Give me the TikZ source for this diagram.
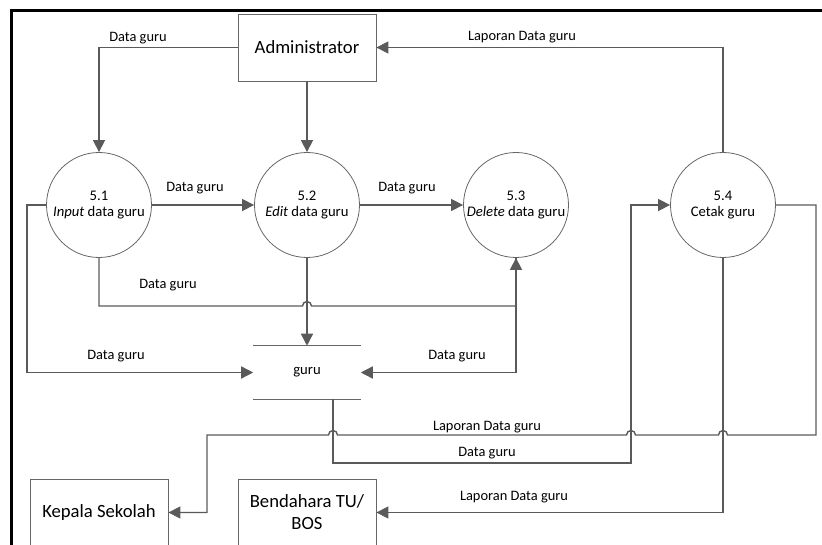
\documentclass[tikz,border=0pt]{standalone}
\usepackage{fontspec}
\setmainfont{Carlito}
\usetikzlibrary{arrows.meta}
\definecolor{linegray}{HTML}{5A5A5A}
\definecolor{edgegray}{HTML}{666666}
\tikzset{
  flow/.style={draw=linegray, line width=1.05pt, -{Triangle[length=9pt,width=9pt]}},
  process/.style={circle, draw=edgegray, line width=0.6pt, minimum size=78.75pt,
    inner sep=0pt, align=center, font=\fontsize{11}{11.5}\selectfont},
  entity/.style={rectangle, draw=edgegray, line width=0.6pt, minimum width=103.5pt,
    minimum height=50.25pt, align=center, font=\fontsize{14}{16.5}\selectfont},
  lbl/.style={font=\fontsize{10.8}{12}\selectfont, inner sep=0pt}
}
\begin{document}
\begin{tikzpicture}[x=0.75pt, y=-0.75pt]
\useasboundingbox (0,0) rectangle (822,545);
\clip (0,0) rectangle (822,545);

% frame
\draw[line width=2.25pt] (11,546) -- (11,11) -- (823,11);

% external entities
\node[entity] (adm) at (307,47.5) {Administrator};
\node[entity] (kep) at (99,512.5) {Kepala Sekolah};
\node[entity] (ben) at (307,512.5) {Bendahara TU/\\BOS};

% processes
\node[process] (c51) at (99,205) {5.1\\\textit{Input} data guru};
\node[process] (c52) at (307,205) {5.2\\\textit{Edit} data guru};
\node[process] (c53) at (516,205) {5.3\\\textit{Delete} data guru};
\node[process] (c54) at (723,205) {5.4\\Cetak guru};

% data store
\node[minimum width=80.25pt, minimum height=39.75pt, inner sep=0pt,
  font=\fontsize{11}{12}\selectfont] (store) at (307,372.5) {guru};
\draw[edgegray, line width=0.6pt] (store.north west) -- (store.north east);
\draw[edgegray, line width=0.6pt] (store.south west) -- (store.south east);
\coordinate (sb) at (333,399);

% connectors
\draw[flow] (adm.west) -| (c51.north);
\draw[flow] (adm.south) -- (c52.north);
\draw[flow] (c54.north) |- (adm.east);
\draw[flow] (c51.east) -- (c52.west);
\draw[flow] (c52.east) -- (c53.west);
\draw[flow] (c51.west) -- (27,205) |- (store.west);
\draw[flow] (c51.south) |- (302.5,306) arc[start angle=180, end angle=0, radius=3.375pt] -| (c53.south);
\draw[flow] (c52.south) -- (store.north);
\draw[flow] (c53.south) |- (store.east);
\draw[flow] (sb) |- (631,463) |- (c54.west);
\draw[flow] (c54.east) -| (816,435) -- (727.5,435)
  arc[start angle=0, end angle=180, radius=3.375pt] -- (635.5,435)
  arc[start angle=0, end angle=180, radius=3.375pt] -- (337.5,435)
  arc[start angle=0, end angle=180, radius=3.375pt] -- (207,435) |- (kep.east);
\draw[flow] (c54.south) |- (ben.east);

% flow labels
\node[lbl] (l1) at (138,38) {Data guru};
\node[lbl] (l2) at (522,37) {Laporan Data guru};
\node[lbl] (l3) at (195,188) {Data guru};
\node[lbl] (l4) at (407,188) {Data guru};
\node[lbl] (l5) at (168,285) {Data guru};
\node[lbl] (l6) at (116,356) {Data guru};
\node[lbl] (l7) at (457,356) {Data guru};
\node[lbl] (l8) at (487,427) {Laporan Data guru};
\node[lbl] (l9) at (487,453) {Data guru};
\node[lbl] (l10) at (514,497) {Laporan Data guru};
\end{tikzpicture}
\end{document}
